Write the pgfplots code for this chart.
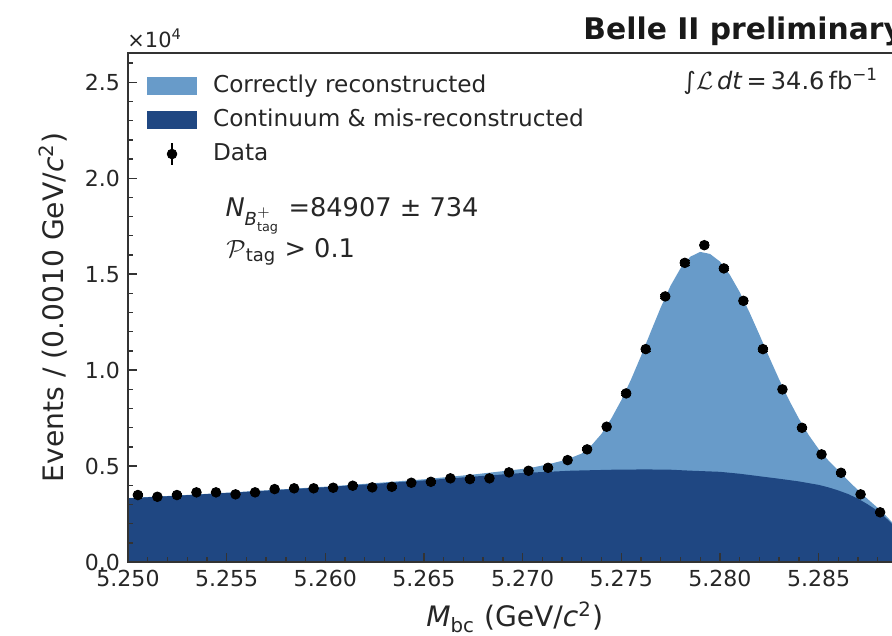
\documentclass[border=0pt]{standalone}
\usepackage{fontspec}
\setmainfont{DejaVu Sans}
\usepackage{amsmath}
\usepackage{pgfplots}
\usepackage{pgfplotstable}
\pgfplotsset{compat=1.18}
\definecolor{lightb}{RGB}{104,155,201}
\definecolor{darkb}{RGB}{31,71,130}

\pgfplotstableread{
x y
5.2500 3330
5.2525 3465
5.2550 3610
5.2575 3765
5.2600 3925
5.2625 4110
5.2650 4310
5.2675 4560
5.2700 4850
5.2705 4925
5.2710 5030
5.2715 5142
5.2720 5275
5.2725 5450
5.2730 5655
5.2735 6090
5.2740 6680
5.2745 7485
5.2750 8427
5.2755 9522
5.2760 10734
5.2765 12010
5.2770 13262
5.2775 14400
5.2780 15299
5.2785 15911
5.2790 16160
5.2795 16055
5.2800 15659
5.2805 14973
5.2810 14073
5.2815 13005
5.2820 11849
5.2825 10669
5.2830 9521
5.2835 8445
5.2840 7477
5.2845 6617
5.2850 5889
5.2855 5290
5.2860 4770
5.2865 4250
5.2870 3740
5.2875 3270
5.2880 2820
5.2884 2430
5.2887 2100
5.2890 1450
5.2892 0
}\totaltab

\pgfplotstableread{
x y
5.2500 3320
5.2525 3455
5.2550 3600
5.2575 3750
5.2600 3900
5.2625 4070
5.2650 4250
5.2675 4450
5.2700 4640
5.2725 4760
5.2750 4820
5.2765 4822
5.2775 4810
5.2785 4760
5.2800 4700
5.2810 4600
5.2820 4470
5.2830 4340
5.2840 4200
5.2850 4020
5.2855 3890
5.2860 3730
5.2865 3540
5.2870 3300
5.2875 3000
5.2880 2660
5.2884 2310
5.2887 2010
5.2890 1360
5.2892 0
}\conttab

\pgfplotstableread{
x y e
5.25050 3490 59
5.25149 3400 58
5.25248 3490 59
5.25347 3630 60
5.25446 3630 60
5.25545 3526 59
5.25644 3630 60
5.25743 3800 62
5.25842 3840 62
5.25941 3840 62
5.26040 3870 62
5.26139 3975 63
5.26238 3890 62
5.26337 3920 63
5.26436 4130 64
5.26535 4180 65
5.26634 4360 66
5.26733 4320 66
5.26832 4360 66
5.26931 4670 68
5.27030 4755 69
5.27129 4910 70
5.27228 5310 73
5.27327 5870 77
5.27426 7050 84
5.27525 8786 94
5.27624 11094 105
5.27723 13840 118
5.27822 15590 125
5.27921 16510 128
5.28020 15300 124
5.28119 13610 117
5.28218 11094 105
5.28317 8995 95
5.28416 6995 84
5.28515 5610 75
5.28614 4650 68
5.28713 3526 59
5.28812 2590 51
}\datatab

\begin{document}
\begin{tikzpicture}
\path[use as bounding box, clip] (-56.32pt,-32.12pt) rectangle (336.16pt,247.28pt);
\begin{axis}[
  at={(0pt,0pt)}, anchor=south west,
  scale only axis, width=340.3pt, height=223.96pt,
  xmin=5.25, xmax=5.2892, ymin=0, ymax=26525,
  axis on top,
  scaled ticks=false,
  xtick={5.250,5.255,5.260,5.265,5.270,5.275,5.280,5.285},
  xticklabels={5.250,5.255,5.260,5.265,5.270,5.275,5.280,5.285},
  minor xtick={5.251,5.252,5.253,5.254,5.256,5.257,5.258,5.259,5.261,5.262,5.263,5.264,5.266,5.267,5.268,5.269,5.271,5.272,5.273,5.274,5.276,5.277,5.278,5.279,5.281,5.282,5.283,5.284,5.286,5.287,5.288,5.289},
  ytick={0,5000,10000,15000,20000,25000},
  yticklabels={0.0,0.5,1.0,1.5,2.0,2.5},
  minor ytick={1000,2000,3000,4000,6000,7000,8000,9000,11000,12000,13000,14000,16000,17000,18000,19000,21000,22000,23000,24000,26000},
  tick align=inside, xtick pos=left, ytick pos=left,
  major tick length=4pt, minor tick length=2.2pt,
  tick style={black!80, line width=0.6pt},
  axis line style={black!80, line width=0.7pt},
  /pgf/number format/assume math mode=true,
  ticklabel style={font=\fontsize{9.7}{11.6}\selectfont, text=black!85},
  xlabel={\textit{M}\textsubscript{bc} (GeV/\textit{c}\textsuperscript{2})},
  ylabel={Events / (0.0010 GeV/\textit{c}\textsuperscript{2})},
  label style={font=\fontsize{12.4}{14.8}\selectfont, text=black!85},
  xlabel style={at={(axis description cs:0.5,0)}, anchor=base, yshift=-28.5pt},
  ylabel style={at={(axis description cs:-0.084,0.5)}, anchor=base},
  legend cell align=left,
  legend style={at={(axis description cs:0.0246,0.9692)}, anchor=north west,
    draw=none, fill=none, inner sep=0pt, outer sep=0pt,
    font=\fontsize{10.2}{12.2}\selectfont, text=black!85,
    row sep=0pt, column sep=4.1pt,
    nodes={inner sep=2.96pt, text height=0.76em, text depth=0.15em}},
]
\addplot[fill=lightb, draw=none,
  legend image code/.code={\fill[lightb] (0pt,-4pt) rectangle (22pt,4pt);}]
  table[x=x,y=y]{\totaltab} \closedcycle;
\addlegendentry{Correctly reconstructed}
\addplot[fill=darkb, draw=none,
  legend image code/.code={\fill[darkb] (0pt,-4pt) rectangle (22pt,4pt);}]
  table[x=x,y=y]{\conttab} \closedcycle;
\addlegendentry{Continuum \& mis-reconstructed}
\addplot[only marks, mark=*, mark size=2.1pt, black,
  legend image code/.code={\path[draw=black, line width=1.2pt] (11pt,-4.8pt) -- (11pt,4.8pt); \path[fill=black] (11pt,0pt) circle (2.1pt);},
  error bars/.cd, y dir=both, y explicit, error bar style={line width=0.8pt}]
  table[x=x,y=y,y error=e]{\datatab};
\addlegendentry{Data}
\end{axis}
\node[anchor=base west, inner sep=0pt, font=\fontsize{9.2}{11}\selectfont, text=black!85] at (-0.44pt,226.2pt) {×10\textsuperscript{4}};
\node[anchor=base west, inner sep=0pt, font=\fontsize{13.1}{15.7}\selectfont\bfseries, text=black!90] at (200.2pt,229.7pt) {Belle II preliminary};
\node[anchor=base west, inner sep=0pt, font=\fontsize{10.6}{12.7}\selectfont, text=black!85] at (244.2pt,207.7pt) {∫$\mathcal{L}$\,\textit{dt}\,=\,34.6\,fb\textsuperscript{−1}};
\node[anchor=base west, inner sep=0pt, font=\fontsize{11.3}{13.5}\selectfont, text=black!85] at (42.7pt,151.9pt) {$\textit{N}_{\textit{B}^{+}_{\text{tag}}}$ =84907 ± 734};
\node[anchor=base west, inner sep=0pt, font=\fontsize{11.3}{13.5}\selectfont, text=black!85] at (43.1pt,133.8pt) {$\mathcal{P}$\textsubscript{tag} > 0.1};
\end{tikzpicture}
\end{document}
